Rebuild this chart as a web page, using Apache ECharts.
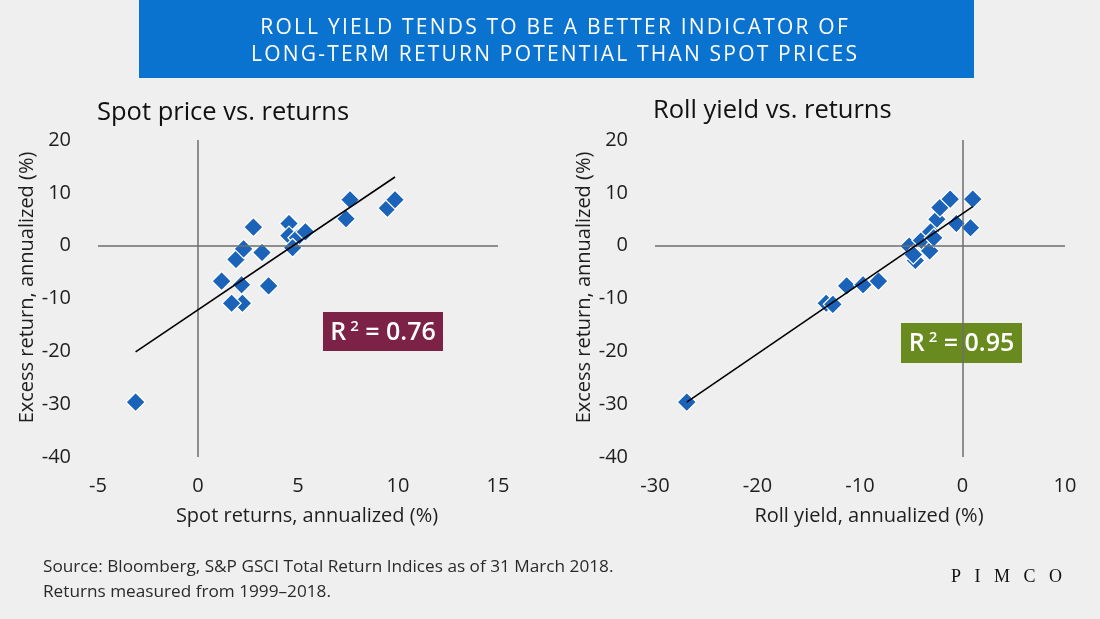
<!DOCTYPE html>
<html><head><meta charset="utf-8">
<script src="https://cdn.jsdelivr.net/npm/echarts@6/dist/echarts.min.js"></script>
<style>html,body{margin:0;padding:0;background:#efefef}#c{width:1100px;height:619px}</style>
</head><body><div id="c"></div>
<script>
// ---- Data ----
const spotX = [-3.12, 2.22, 1.68, 1.18, 2.18, 1.9, 2.28, 2.77, 3.2, 3.53, 4.55, 4.55, 4.97, 4.73, 5.37, 7.6, 7.4, 9.47, 9.85];
const spotY = [-29.6, -10.9, -10.9, -6.7, -7.4, -2.6, -0.6, 3.5, -1.3, -7.6, 4.2, 1.9, 1.5, -0.4, 2.6, 8.7, 5.1, 7.1, 8.7];
const rollX = [-26.9, -13.3, -12.65, -11.3, -9.7, -8.2, -5.2, -4.6, -4.8, -4.0, -3.1, -3.2, -2.8, -2.5, -2.2, -1.2, -0.6, 0.78, 1.0];
const rollY = [-29.6, -10.9, -11.1, -7.6, -7.4, -6.7, -0.1, -2.8, -1.7, 1.0, 2.6, -1.0, 1.5, 5.0, 7.2, 8.8, 4.2, 3.4, 8.8];
const spotFitX = [-3.12, 9.85];
const spotFitY = [-20.1, 13.0];
const rollFitX = [-26.9, 1.0];
const rollFitY = [-29.6, 7.4];
const spotTicks = {min: -5, max: 15, interval: 5};
const rollTicks = {min: -30, max: 10, interval: 10};
const yTicks = {min: -40, max: 20, interval: 10};
const r2Spot = '0.76';
const r2Roll = '0.95';
const bannerLines = ['ROLL YIELD TENDS TO BE A BETTER INDICATOR OF', 'LONG-TERM RETURN POTENTIAL THAN SPOT PRICES'];

const pairs = (xs, ys) => xs.map((x, i) => [x, ys[i]]);
const FONT = 'Open Sans';
const axisText = {color: '#1e1e1e', fontFamily: FONT, fontSize: 20};

function xAxisCfg(grid, ticks, name) {
  return {
    gridIndex: grid, type: 'value', min: ticks.min, max: ticks.max, interval: ticks.interval,
    axisLine: {show: false}, axisTick: {show: false}, splitLine: {show: false},
    axisLabel: Object.assign({margin: 19}, axisText),
    name: name, nameLocation: 'middle', nameGap: 49,
    nameTextStyle: Object.assign({padding: [0, 0, 0, 18]}, axisText)
  };
}
function yAxisCfg(grid) {
  return {
    gridIndex: grid, type: 'value', min: yTicks.min, max: yTicks.max, interval: yTicks.interval,
    axisLine: {show: false}, axisTick: {show: false}, splitLine: {show: false},
    axisLabel: Object.assign({margin: 27}, axisText),
    name: 'Excess return, annualized (%)', nameLocation: 'middle', nameGap: 51,
    nameTextStyle: Object.assign({padding: [0, 0, 0, 22]}, axisText)
  };
}
const zeroLines = {
  silent: true, symbol: 'none', label: {show: false}, animation: false,
  lineStyle: {color: '#6e6e6e', width: 1.5, type: 'solid'},
  emphasis: {disabled: true},
  data: [{yAxis: 0}, {xAxis: 0}]
};
function scatter(idx, data) {
  return {
    type: 'scatter', xAxisIndex: idx, yAxisIndex: idx, data: data,
    symbol: 'diamond', symbolSize: 19, z: 3,
    itemStyle: {color: '#1B63B9', borderColor: '#ffffff', borderWidth: 1.2, opacity: 1},
    markLine: zeroLines
  };
}
function fit(idx, data) {
  return {
    type: 'line', xAxisIndex: idx, yAxisIndex: idx, data: data, symbol: 'none', z: 5,
    lineStyle: {color: '#000', width: 1.6}, silent: true
  };
}
function r2Box(x, y, w, h, fill, val) {
  return {
    type: 'group', left: x, top: y, children: [
      {type: 'rect', shape: {x: 0, y: 0, width: w, height: h}, style: {fill: fill}},
      {type: 'text', x: w / 2, y: h / 2 + 1, style: {
        text: '{a|R}{s| 2}{a| = ' + val + '}',
        align: 'center', verticalAlign: 'middle',
        rich: {
          a: {fontFamily: FONT, fontSize: 25, fontWeight: 600, fill: '#fff', color: '#fff'},
          s: {fontFamily: FONT, fontSize: 15, fontWeight: 600, fill: '#fff', color: '#fff', padding: [0, 0, 12, 0]}
        }
      }}
    ]
  };
}
// letter-spaced banner text built from per-character rich tokens
function spaced(str) { return str.split('').map(ch => '{c|' + ch + '}').join(''); }
function bannerText(str, y) {
  return {type: 'text', x: 554, y: y, style: {
    text: spaced(str), align: 'center', verticalAlign: 'middle',
    rich: {c: {fontFamily: FONT, fontSize: 21, fill: '#fff', color: '#fff', padding: [0, 1.1, 0, 1.1]}}
  }};
}

const chart = echarts.init(document.getElementById('c'));
chart.setOption({
  backgroundColor: '#efefef',
  animation: false,
  title: [
    {text: 'Spot price vs. returns', left: 97, top: 100, padding: 0,
      textStyle: {fontFamily: FONT, fontSize: 25.5, fontWeight: 'normal', color: '#111'}},
    {text: 'Roll yield vs. returns', left: 653, top: 98, padding: 0,
      textStyle: {fontFamily: FONT, fontSize: 25.5, fontWeight: 'normal', color: '#111'}}
  ],
  grid: [
    {left: 98, right: 602, top: 140, bottom: 162},
    {left: 655, right: 35, top: 140, bottom: 162}
  ],
  xAxis: [xAxisCfg(0, spotTicks, 'Spot returns, annualized (%)'), xAxisCfg(1, rollTicks, 'Roll yield, annualized (%)')],
  yAxis: [yAxisCfg(0), yAxisCfg(1)],
  series: [
    scatter(0, pairs(spotX, spotY)),
    fit(0, pairs(spotFitX, spotFitY)),
    scatter(1, pairs(rollX, rollY)),
    fit(1, pairs(rollFitX, rollFitY))
  ],
  graphic: [
    {type: 'rect', shape: {x: 139, y: 0, width: 835, height: 78}, style: {fill: '#0A72CF'}},
    bannerText(bannerLines[0], 28),
    bannerText(bannerLines[1], 55),
    r2Box(323, 312, 120, 39, '#7B2246', r2Spot),
    r2Box(901, 323, 121, 40, '#688A1E', r2Roll),
    {type: 'text', x: 43, y: 567, style: {text: 'Source: Bloomberg, S&P GSCI Total Return Indices as of 31 March 2018.', verticalAlign: 'middle', fill: '#2a2a2a', fontFamily: FONT, fontSize: 17.2}},
    {type: 'text', x: 43, y: 592, style: {text: 'Returns measured from 1999\u20132018.', verticalAlign: 'middle', fill: '#2a2a2a', fontFamily: FONT, fontSize: 17.2}},
    {type: 'text', x: 951, y: 577, style: {text: 'P   I   M   C   O', verticalAlign: 'middle', fill: '#111', fontFamily: 'Liberation Serif', fontSize: 18}}
  ]
});
</script></body></html>
